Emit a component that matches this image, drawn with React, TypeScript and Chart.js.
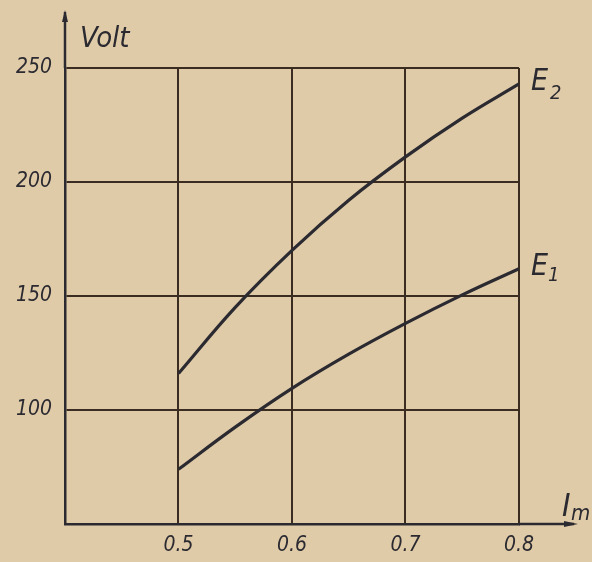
import React, { useEffect, useRef } from "react";
import { Chart, registerables } from "chart.js";

Chart.register(...registerables);

const e2Current = [0.5, 0.55, 0.6, 0.65, 0.7, 0.75, 0.8];
const e2Volt = [116, 145, 170, 192, 211, 228, 243];
const e1Current = [0.5, 0.55, 0.6, 0.65, 0.7, 0.75, 0.8];
const e1Volt = [74, 92.5, 109.5, 124.5, 138, 150.5, 162];
const xTicks = [0.4, 0.5, 0.6, 0.7, 0.8];
const yTicks = [50, 100, 150, 200, 250];
const xTickLabels = ["", "0.5", "0.6", "0.7", "0.8"];
const yTickLabels = ["", "100", "150", "200", "250"];

const BG = "#e0cba9";
const INK = "#2b2a30";
const GRID = "#3b2c22";
const FONT = "'Liberation Sans Narrow', 'DejaVu Sans Condensed', 'DejaVu Sans', sans-serif";

const decor = {
  id: "decor",
  afterDraw(chart: any) {
    const ctx = chart.ctx;
    const xs = chart.scales.x;
    const ys = chart.scales.y;
    const x0 = xs.getPixelForValue(0.4);
    const y0 = ys.getPixelForValue(50);
    const xr = xs.getPixelForValue(0.8);
    const yTop = ys.getPixelForValue(250);
    ctx.save();
    ctx.strokeStyle = INK;
    ctx.fillStyle = INK;
    ctx.lineWidth = 2.5;
    // y axis extension with arrow
    ctx.beginPath();
    ctx.moveTo(x0, yTop);
    ctx.lineTo(x0, 12);
    ctx.stroke();
    ctx.beginPath();
    ctx.moveTo(x0, 10);
    ctx.lineTo(x0 - 3, 22);
    ctx.lineTo(x0 + 3, 22);
    ctx.closePath();
    ctx.fill();
    // x axis extension with arrow
    ctx.beginPath();
    ctx.moveTo(xr, y0);
    ctx.lineTo(574, y0);
    ctx.stroke();
    ctx.beginPath();
    ctx.moveTo(578, y0);
    ctx.lineTo(564, y0 - 3);
    ctx.lineTo(564, y0 + 3);
    ctx.closePath();
    ctx.fill();

    ctx.textBaseline = "alphabetic";
    ctx.textAlign = "left";
    ctx.font = `italic 29px ${FONT}`;
    ctx.fillText("Volt", 80, 47);

    // E2
    const e2y = ys.getPixelForValue(e2Volt[e2Volt.length - 1]);
    ctx.font = `italic 30px ${FONT}`;
    ctx.fillText("E", xr + 12, e2y + 6);
    ctx.font = `italic 20px ${FONT}`;
    ctx.fillText("2", xr + 31, e2y + 15);
    // E1
    const e1y = ys.getPixelForValue(e1Volt[e1Volt.length - 1]);
    ctx.font = `italic 30px ${FONT}`;
    ctx.fillText("E", xr + 12, e1y + 6);
    ctx.font = `italic 20px ${FONT}`;
    ctx.fillText("1", xr + 29, e1y + 12);
    // I_m
    ctx.font = `italic 32px ${FONT}`;
    ctx.fillText("I", 562, y0 - 8);
    ctx.font = `italic 22px ${FONT}`;
    ctx.fillText("m", 571, y0 - 4);
    ctx.restore();
  },
};

export default function App() {
  const ref = useRef<HTMLCanvasElement | null>(null);
  useEffect(() => {
    document.body.style.margin = "0";
    document.body.style.background = BG;
    const canvas = ref.current!;
    const chart = new Chart(canvas, {
      type: "line",
      data: {
        datasets: [
          {
            label: "E2",
            data: e2Current.map((x, i) => ({ x, y: e2Volt[i] })),
            borderColor: INK,
            borderWidth: 3.2,
            pointRadius: 0,
            tension: 0.4,
            fill: false,
          },
          {
            label: "E1",
            data: e1Current.map((x, i) => ({ x, y: e1Volt[i] })),
            borderColor: INK,
            borderWidth: 3.2,
            pointRadius: 0,
            tension: 0.4,
            fill: false,
          },
        ],
      },
      options: {
        animation: false,
        responsive: false,
        maintainAspectRatio: false,
        layout: { padding: { top: 68, right: 73, left: 0, bottom: 0 } },
        plugins: { legend: { display: false }, tooltip: { enabled: false }, title: { display: false } },
        scales: {
          x: {
            type: "linear",
            min: 0.4,
            max: 0.8,
            afterBuildTicks: (s: any) => {
              s.ticks = xTicks.map((v) => ({ value: v }));
            },
            afterFit: (s: any) => {
              s.height = 38;
            },
            ticks: {
              padding: 9,
              color: INK,
              font: { family: FONT, size: 21, style: "italic" },
              callback: (v: any) => {
                const i = xTicks.findIndex((t) => Math.abs(t - Number(v)) < 1e-6);
                return i >= 0 ? xTickLabels[i] : "";
              },
            },
            grid: { color: GRID, lineWidth: 2, drawTicks: false },
            border: { color: INK, width: 2.5 },
          },
          y: {
            type: "linear",
            min: 50,
            max: 250,
            afterBuildTicks: (s: any) => {
              s.ticks = yTicks.map((v) => ({ value: v }));
            },
            afterFit: (s: any) => {
              s.width = 65;
            },
            ticks: {
              padding: 13,
              color: INK,
              font: { family: FONT, size: 21, style: "italic" },
              callback: (v: any) => {
                const i = yTicks.indexOf(Number(v));
                return i >= 0 ? yTickLabels[i] : "";
              },
            },
            grid: { color: GRID, lineWidth: 2, drawTicks: false },
            border: { color: INK, width: 2.5 },
          },
        },
      },
      plugins: [decor],
    } as any);
    return () => chart.destroy();
  }, []);
  return (
    <div style={{ width: 592, height: 562, background: BG }}>
      <canvas ref={ref} width={592} height={562} style={{ display: "block", width: 592, height: 562 }} />
    </div>
  );
}
